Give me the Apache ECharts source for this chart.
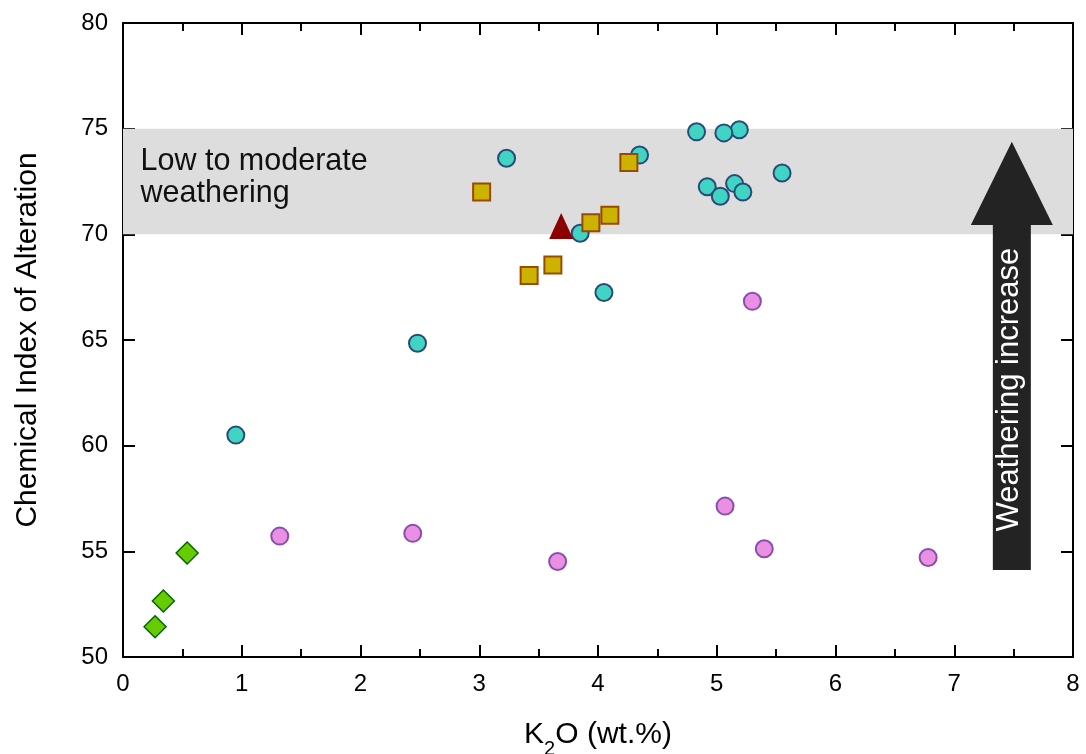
<!DOCTYPE html>
<html>
<head>
<meta charset="utf-8">
<script src="https://cdn.jsdelivr.net/npm/echarts@6/dist/echarts.min.js"></script>
<style>
html,body{margin:0;padding:0;background:#fff;}
#chart{width:1086px;height:754px;}
</style>
</head>
<body>
<div id="chart"></div>
<script>
// ---- data (K2O wt.%, CIA) ----
const cyanK2O   = [0.95, 2.48, 3.23, 3.85, 4.05, 4.35, 4.83, 5.19, 5.06, 4.92, 5.03, 5.15, 5.22, 5.55];
const cyanCIA   = [60.5, 64.85, 73.6, 70.05, 67.25, 73.75, 74.85, 74.95, 74.8, 72.25, 71.8, 72.4, 72.0, 72.9];
const pinkK2O   = [1.32, 2.44, 3.66, 5.07, 5.40, 6.78, 5.30];
const pinkCIA   = [55.72, 55.85, 54.52, 57.14, 55.12, 54.71, 66.83];
const greenK2O  = [0.27, 0.34, 0.54];
const greenCIA  = [51.43, 52.65, 54.92];
const yellowK2O = [3.02, 3.42, 3.62, 3.94, 4.10, 4.26];
const yellowCIA = [72.0, 68.05, 68.55, 70.55, 70.9, 73.4];
const redK2O    = [3.69];
const redCIA    = [70.4];
const bandRange = [70, 75];
const bandText  = 'Low to moderate\nweathering';
const arrowText = 'Weathering increase';
const xTickRange = [0, 8, 1];
const yTickRange = [50, 80, 5];

const FONT = '"Liberation Sans", Arial, Helvetica, sans-serif';
const zip = (a, b) => a.map((v, i) => [v, b[i]]);

const chart = echarts.init(document.getElementById('chart'), null, {renderer: 'canvas'});

const axisLine = {show: true, onZero: false, lineStyle: {color: '#000', width: 2}};
const tickStyle = {color: '#000', width: 2};

const option = {
  backgroundColor: '#fff',
  animation: false,
  grid: {left: 123, right: 13, top: 23, bottom: 97, containLabel: false, outerBoundsMode: 'none'},
  xAxis: [{
    type: 'value', min: xTickRange[0], max: xTickRange[1], interval: xTickRange[2],
    position: 'bottom',
    axisLine: axisLine,
    axisTick: {show: true, inside: true, length: 12, lineStyle: tickStyle},
    minorTick: {show: true, splitNumber: 2, length: 8, lineStyle: tickStyle},
    splitLine: {show: false},
    axisLabel: {fontSize: 24, color: '#000', fontFamily: FONT, margin: 15},
    name: '{a|K}{b|2}{a|O (wt.%)}',
    nameLocation: 'middle', nameGap: 54,
    nameTextStyle: {
      fontFamily: FONT, color: '#000', fontSize: 30,
      rich: {
        a: {fontFamily: FONT, color: '#000', fontSize: 30, lineHeight: 48, verticalAlign: 'middle'},
        b: {fontFamily: FONT, color: '#000', fontSize: 20, lineHeight: 20, verticalAlign: 'bottom'}
      }
    }
  }, {
    type: 'value', min: xTickRange[0], max: xTickRange[1], interval: xTickRange[2],
    position: 'top',
    axisLine: axisLine,
    axisTick: {show: true, inside: true, length: 12, lineStyle: tickStyle},
    minorTick: {show: true, splitNumber: 2, length: 8, lineStyle: tickStyle},
    splitLine: {show: false},
    axisLabel: {show: false}
  }],
  yAxis: [{
    type: 'value', min: yTickRange[0], max: yTickRange[1], interval: yTickRange[2],
    position: 'left',
    axisLine: axisLine,
    axisTick: {show: true, inside: true, length: 12, lineStyle: tickStyle},
    splitLine: {show: false},
    axisLabel: {fontSize: 24, color: '#000', fontFamily: FONT, margin: 15},
    name: 'Chemical Index of Alteration',
    nameLocation: 'middle', nameRotate: 90, nameGap: 80,
    nameTextStyle: {fontFamily: FONT, color: '#000', fontSize: 30}
  }, {
    type: 'value', min: yTickRange[0], max: yTickRange[1], interval: yTickRange[2],
    position: 'right',
    axisLine: axisLine,
    axisTick: {show: true, inside: true, length: 12, lineStyle: tickStyle},
    splitLine: {show: false},
    axisLabel: {show: false}
  }],
  series: [
    {
      type: 'scatter', name: 'band', data: [], z: 1, silent: true,
      markArea: {
        silent: true,
        itemStyle: {color: '#dddddd'},
        label: {show: false},
        data: [[{yAxis: bandRange[0]}, {yAxis: bandRange[1]}]]
      }
    },
    {
      type: 'scatter', name: 'cyan', z: 3, data: zip(cyanK2O, cyanCIA),
      symbol: 'circle', symbolSize: 17,
      itemStyle: {color: '#40d4c4', borderColor: '#2a4a78', borderWidth: 2, opacity: 1}
    },
    {
      type: 'scatter', name: 'pink', z: 3, data: zip(pinkK2O, pinkCIA),
      symbol: 'circle', symbolSize: 17,
      itemStyle: {color: '#ea90e2', borderColor: '#8a4cb0', borderWidth: 2, opacity: 1}
    },
    {
      type: 'scatter', name: 'green', z: 3, data: zip(greenK2O, greenCIA),
      symbol: 'diamond', symbolSize: 22,
      itemStyle: {color: '#66cc00', borderColor: '#006600', borderWidth: 1.5, opacity: 1}
    },
    {
      type: 'scatter', name: 'yellow', z: 4, data: zip(yellowK2O, yellowCIA),
      symbol: 'rect', symbolSize: 17,
      itemStyle: {color: '#ccb300', borderColor: '#9a4a00', borderWidth: 2, opacity: 1}
    },
    {
      type: 'scatter', name: 'red', z: 5, data: zip(redK2O, redCIA),
      symbol: 'triangle', symbolSize: [24, 26],
      itemStyle: {color: '#8b0000', opacity: 1}
    }
  ]
};
chart.setOption(option);

// annotations anchored to data coordinates
const px = (x, y) => chart.convertToPixel({xAxisIndex: 0, yAxisIndex: 0}, [x, y]);
const bandTop = px(0, bandRange[1]);
const tip = px(7.485, 74.38);
const headBase = px(7.485, 70.44);
const shaftEnd = px(7.485, 54.12);
const headHalf = 41, shaftHalf = 19;
const textMid = px(7.485, 62.65);

chart.setOption({
  graphic: [
    {
      type: 'text', z: 10, silent: true,
      x: bandTop[0] + 17.5, y: bandTop[1] + 17,
      style: {text: bandText, fill: '#111', font: '30.5px ' + FONT, lineHeight: 32,
              align: 'left', verticalAlign: 'top'}
    },
    {
      type: 'polygon', z: 10, silent: true,
      shape: {points: [
        [tip[0], tip[1]],
        [tip[0] + headHalf, headBase[1]],
        [tip[0] + shaftHalf, headBase[1]],
        [tip[0] + shaftHalf, shaftEnd[1]],
        [tip[0] - shaftHalf, shaftEnd[1]],
        [tip[0] - shaftHalf, headBase[1]],
        [tip[0] - headHalf, headBase[1]]
      ]},
      style: {fill: '#232323', stroke: null}
    },
    {
      type: 'text', z: 11, silent: true,
      x: textMid[0] - 2, y: textMid[1], rotation: Math.PI / 2,
      style: {text: arrowText, fill: '#fff', font: '31px ' + FONT,
              align: 'center', verticalAlign: 'middle'}
    }
  ]
});
</script>
</body>
</html>
